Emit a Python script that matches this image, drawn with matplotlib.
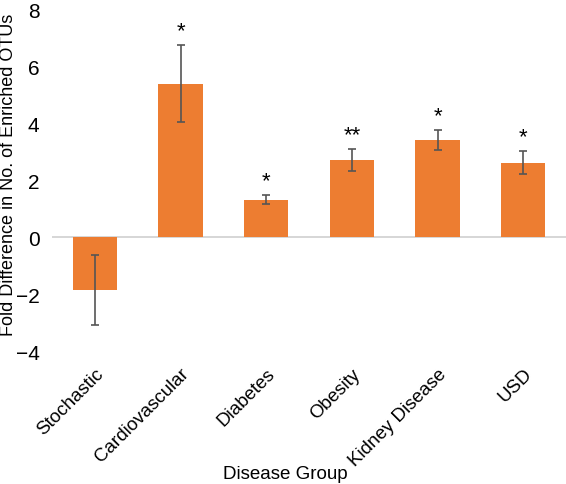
import matplotlib.pyplot as plt

# 数据
groups = ["Stochastic", "Cardiovascular", "Diabetes", "Obesity", "Kidney Disease", "USD"]
values = [-1.86, 5.38, 1.31, 2.70, 3.40, 2.61]
errors = [1.22, 1.35, 0.16, 0.39, 0.35, 0.40]
marks = ["", "*", "*", "**", "*", "*"]

plt.rcParams['font.family'] = ['Liberation Sans', 'DejaVu Sans']
fig = plt.figure(figsize=(5.66, 4.85), dpi=100)
ax = fig.add_axes([0.092, 0.274, 0.908, 0.705])

x = range(len(groups))
ax.bar(x, values, width=0.52, color='#ED7D31', yerr=errors,
       error_kw=dict(ecolor='#555555', elinewidth=1.2, capsize=3, capthick=1.2))
ax.axhline(0, color='#d0d0d0', lw=1.2, zorder=0)

# 星号
for i, (v, e, m) in enumerate(zip(values, errors, marks)):
    if m:
        ax.text(i, v + e + 0.15, m, ha='center', va='bottom', fontsize=16)

ax.set_xlim(-0.5, len(groups) - 0.5)
ax.set_ylim(-4, 8)
ax.set_yticks([-4, -2, 0, 2, 4, 6, 8])
ax.set_xticks(list(x))
ax.set_xticklabels(groups, rotation=45, ha='right', rotation_mode='anchor', fontsize=13.5)
ax.tick_params(axis='y', labelsize=15, length=0, pad=9)
ax.tick_params(axis='x', length=0, pad=10)
for s in ax.spines.values():
    s.set_visible(False)

fig.text(0, 0.64, "Fold Difference in No. of Enriched OTUs", rotation=90,
         ha='left', va='center', fontsize=13)
fig.text(285 / 566, 0.005, "Disease Group", ha='center', va='bottom', fontsize=13.5)

plt.savefig('out.png', dpi=100)
